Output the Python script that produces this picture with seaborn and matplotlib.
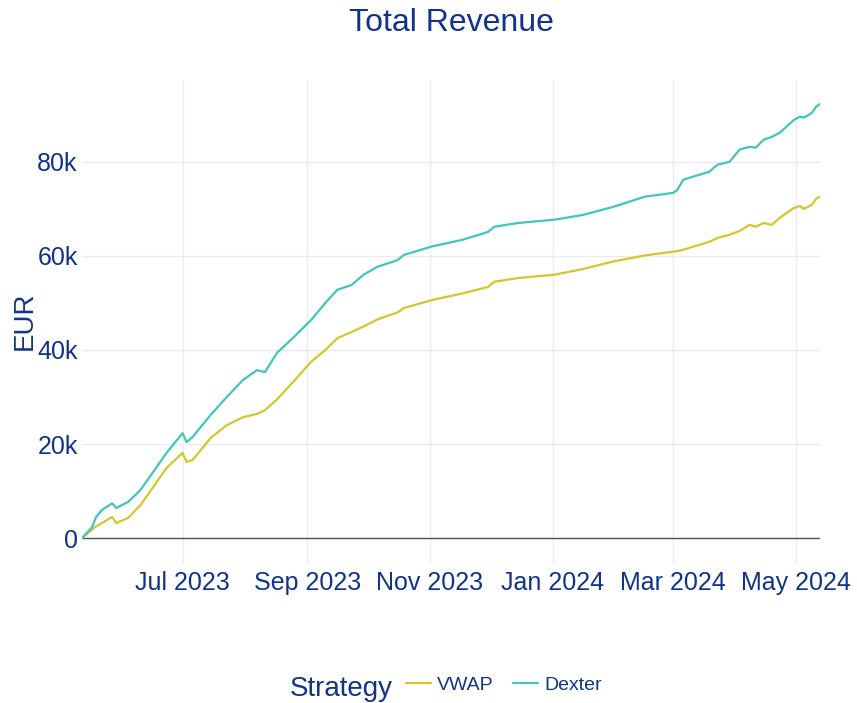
import pandas as pd
import matplotlib.pyplot as plt
import matplotlib.dates as mdates
from matplotlib.ticker import FuncFormatter
from matplotlib.lines import Line2D
import seaborn as sns

dates = ['2023-05-12', '2023-05-17', '2023-05-19', '2023-05-22', '2023-05-27', '2023-05-29',
         '2023-06-04', '2023-06-10', '2023-06-16', '2023-06-23', '2023-07-01', '2023-07-03',
         '2023-07-06', '2023-07-15', '2023-07-23', '2023-07-31', '2023-08-07', '2023-08-11',
         '2023-08-17', '2023-08-25', '2023-09-03', '2023-09-10', '2023-09-16', '2023-09-23',
         '2023-09-29', '2023-10-06', '2023-10-16', '2023-10-19', '2023-11-02', '2023-11-17',
         '2023-11-30', '2023-12-03', '2023-12-15', '2024-01-02', '2024-01-16', '2024-01-31',
         '2024-02-16', '2024-03-01', '2024-03-03', '2024-03-06', '2024-03-19', '2024-03-23',
         '2024-03-29', '2024-04-03', '2024-04-08', '2024-04-11', '2024-04-15', '2024-04-19',
         '2024-04-23', '2024-04-30', '2024-05-03', '2024-05-05', '2024-05-09', '2024-05-11',
         '2024-05-13']

dexter = [0, 2.3, 4.5, 6.0, 7.4, 6.4,
          7.7, 10.2, 13.8, 18.1, 22.3, 20.4,
          21.5, 26.2, 30.0, 33.6, 35.7, 35.3,
          39.4, 42.6, 46.4, 50.0, 52.8, 53.8,
          56.0, 57.7, 59.1, 60.2, 62.0, 63.4,
          65.1, 66.2, 67.0, 67.7, 68.7, 70.4,
          72.6, 73.4, 74.0, 76.2, 77.9, 79.4,
          80.0, 82.6, 83.2, 83.0, 84.7, 85.3,
          86.2, 88.9, 89.6, 89.4, 90.4, 91.7,
          92.3]

vwap = [0, 1.8, 2.5, 3.2, 4.5, 3.2,
        4.3, 7.0, 10.6, 14.9, 18.1, 16.2,
        16.6, 21.3, 24.0, 25.7, 26.4, 27.2,
        29.5, 33.2, 37.5, 40.0, 42.5, 43.8,
        45.0, 46.5, 48.0, 48.9, 50.6, 52.0,
        53.4, 54.5, 55.3, 56.0, 57.2, 58.8,
        60.1, 60.9, 61.0, 61.3, 63.0, 63.8,
        64.5, 65.3, 66.6, 66.2, 67.0, 66.6,
        68.1, 70.2, 70.6, 70.0, 70.9, 72.1,
        72.6]

strategies = ['VWAP', 'Dexter']
colors = {'VWAP': '#d6c62c', 'Dexter': '#40c6bb'}
text_color = '#10348a'

df = pd.DataFrame({
    'date': pd.to_datetime(dates * 2),
    'revenue': [v * 1000 for v in vwap] + [v * 1000 for v in dexter],
    'strategy': ['VWAP'] * len(dates) + ['Dexter'] * len(dates),
})

sns.set_theme(style='white')
plt.rcParams['font.family'] = ['Liberation Sans', 'DejaVu Sans']

fig = plt.figure(figsize=(8.57, 7.03), dpi=100)
ax = fig.add_axes([82 / 857, 1 - 563 / 703, 738 / 857, 483 / 703])

sns.lineplot(data=df, x='date', y='revenue', hue='strategy', hue_order=strategies,
             palette=colors, linewidth=1.6, ax=ax, legend=False, zorder=3)

ax.set_xlim(pd.Timestamp('2023-05-12'), pd.Timestamp('2024-05-13'))
ax.set_ylim(-5300, 97400)
ax.set_yticks([0, 20000, 40000, 60000, 80000])
ax.yaxis.set_major_formatter(FuncFormatter(lambda v, p: '0' if v == 0 else f'{int(v / 1000)}k'))
ax.xaxis.set_major_locator(mdates.MonthLocator(bymonth=[1, 3, 5, 7, 9, 11]))
ax.xaxis.set_major_formatter(mdates.DateFormatter('%b %Y'))

ax.grid(True, color='#ebebeb', linewidth=1)
ax.axhline(0, color='#555555', linewidth=1, zorder=2)
for s in ax.spines.values():
    s.set_visible(False)
ax.tick_params(axis='both', length=0, labelsize=18, labelcolor=text_color)
ax.tick_params(axis='x', pad=6)
ax.tick_params(axis='y', pad=3)
ax.set_xlabel('')
ax.set_ylabel('')

fig.text(451 / 857, 1 - 23 / 703, 'Total Revenue', ha='center', va='center',
         fontsize=23, color=text_color)
fig.text(25 / 857, 1 - 321 / 703, 'EUR', ha='center', va='center', rotation=90,
         fontsize=20, color=text_color)

fig.text(290 / 857, 1 - 689 / 703, 'Strategy', ha='left', va='center',
         fontsize=20, color=text_color)
handles = [Line2D([0], [0], color=colors[s], linewidth=1.6) for s in strategies]
leg = fig.legend(handles, strategies, loc='center left', bbox_to_anchor=(406 / 857, 1 - 685 / 703),
                 ncol=2, frameon=False, fontsize=14, handlelength=1.3, handletextpad=0.3,
                 columnspacing=1.0, borderaxespad=0, borderpad=0)
for t in leg.get_texts():
    t.set_color(text_color)

fig.savefig('out.png', dpi=100)
